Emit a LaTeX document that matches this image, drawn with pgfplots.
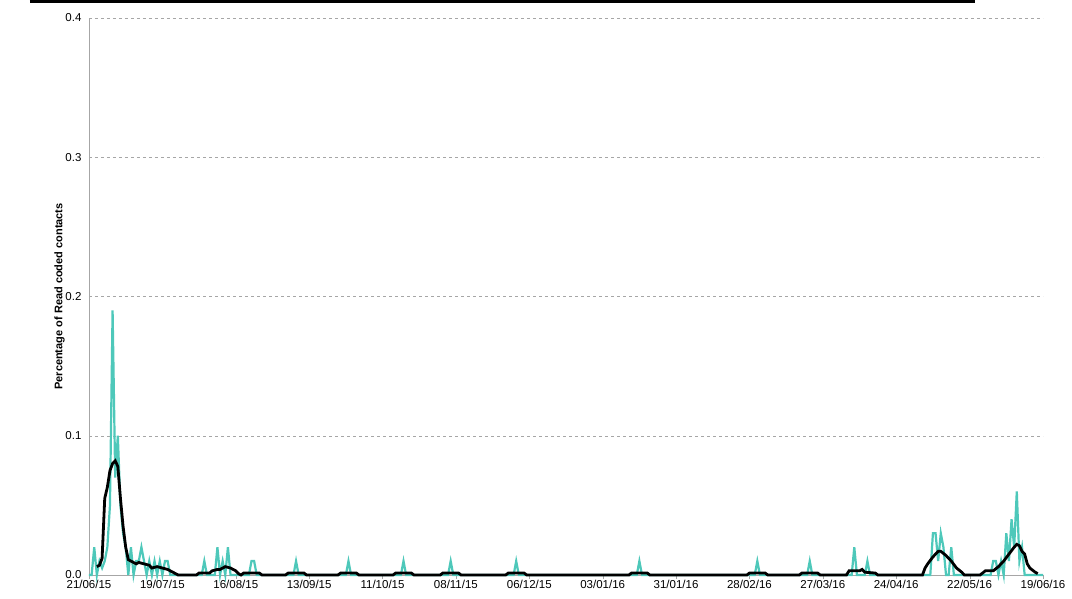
\documentclass[border=0pt]{standalone}
\usepackage{pgfplots}
\pgfplotsset{compat=1.18}
\usepackage{fontspec}
\setmainfont{Liberation Sans}
\definecolor{teal1}{RGB}{78,200,186}
\begin{document}
\begin{tikzpicture}[x=1pt,y=1pt]
\useasboundingbox (-89,-23) rectangle (983,575);
\draw[black,line width=3pt] (-59,573.5) -- (886,573.5);
\begin{axis}[at={(0,0)},anchor=origin,scale only axis,width=954pt,height=557pt,
 xmin=0,xmax=364,ymin=0,ymax=0.4,
 xtick={0,28,...,364},
 xticklabels={21/06/15,19/07/15,16/08/15,13/09/15,11/10/15,08/11/15,06/12/15,03/01/16,31/01/16,28/02/16,27/03/16,24/04/16,22/05/16,19/06/16},
 ytick={0,0.1,0.2,0.3,0.4},
 yticklabel style={/pgf/number format/.cd,fixed,fixed zerofill,precision=1},
 /pgf/number format/assume math mode=true,
 ymajorgrids, grid style={dashed,gray!70,thin},
 axis x line*=bottom, axis y line*=left,
 axis line style={gray!70},
 tick style={gray!70}, tick align=outside, major tick length=4pt,
 ytick style={draw=none},
 tick label style={font=\fontsize{11.5}{12}\selectfont},
 xticklabel style={yshift=2pt},
 ylabel={\textbf{Percentage of Read coded contacts}},
 ylabel style={font=\fontsize{11}{12}\selectfont,yshift=-6pt},
 clip=false]
\addplot[teal1,line width=2.2pt] coordinates {
(0,0)(1,0)(2,0.02)(3,0)(4,0.01)(5,0.005)(6,0.01)(7,0.02)(8,0.05)(9,0.19)(10,0.07)(11,0.1)(12,0.05)(13,0.03)(14,0.02)(15,0)(16,0.02)(17,0)(18,0.01)(19,0.01)(20,0.02)(21,0.01)(22,0)(23,0.01)(24,0)(25,0.01)(26,0)(27,0.01)(28,0)(29,0.01)(30,0.01)(31,0)
(43,0)(44,0.01)(45,0)(48,0)(49,0.02)(50,0)(51,0.01)(52,0)(53,0.02)(54,0)
(61,0)(62,0.01)(63,0.01)(64,0)(78,0)(79,0.01)(80,0)(98,0)(99,0.01)(100,0)(119,0)(120,0.01)(121,0)(137,0)(138,0.01)(139,0)(162,0)(163,0.01)(164,0)(209,0)(210,0.01)(211,0)(254,0)(255,0.01)(256,0)(274,0)(275,0.01)(276,0)(291,0)(292,0.02)(293,0)(296,0)(297,0.01)(298,0)
(321,0)(322,0.03)(323,0.03)(324,0.01)(325,0.03)(326,0.02)(327,0)(328,0)(329,0.02)(330,0)
(344,0)(345,0.01)(346,0.01)(347,0)(348,0.01)(349,0)(350,0.03)(351,0.01)(352,0.04)(353,0.02)(354,0.06)(355,0.01)(356,0.02)(357,0)(364,0)};
\addplot[black,line width=2.8pt] coordinates {
(3,0.006)(4,0.007)(5,0.012)(6,0.055)(7,0.063)(8,0.075)(9,0.08)(10,0.082)(11,0.078)(12,0.055)(13,0.035)(14,0.02)(15,0.011)(17,0.009)(18,0.008)(19,0.009)(21,0.008)(23,0.007)(24,0.005)(26,0.006)(28,0.005)(30,0.004)(32,0.002)(34,0)(41,0)(42,0.0014)(46,0.0014)(47,0.003)(49,0.004)(50,0.004)(52,0.006)(54,0.005)(56,0.003)(57,0.001)(58,0)(59,0.0014)(65,0.0014)(66,0)
(75,0)(76,0.0014)(82,0.0014)(83,0)(95,0)(96,0.0014)(102,0.0014)(103,0)(116,0)(117,0.0014)(123,0.0014)(124,0)(134,0)(135,0.0014)(141,0.0014)(142,0)(159,0)(160,0.0014)(166,0.0014)(167,0)(206,0)(207,0.0014)(213,0.0014)(214,0)(251,0)(252,0.0014)(258,0.0014)(259,0)(271,0)(272,0.0014)(278,0.0014)(279,0)
(289,0)(290,0.003)(294,0.003)(295,0.004)(296,0.002)(300,0.0014)(301,0)
(318,0)(319,0.005)(320,0.008)(322,0.013)(324,0.017)(325,0.017)(327,0.014)(329,0.01)(331,0.005)(333,0.002)(334,0)
(340,0)(342,0.003)(345,0.003)(347,0.006)(349,0.01)(351,0.015)(353,0.02)(354,0.022)(355,0.021)(356,0.017)(357,0.015)(358,0.008)(359,0.005)(361,0.002)(362,0.001)};
\end{axis}
\end{tikzpicture}
\end{document}
